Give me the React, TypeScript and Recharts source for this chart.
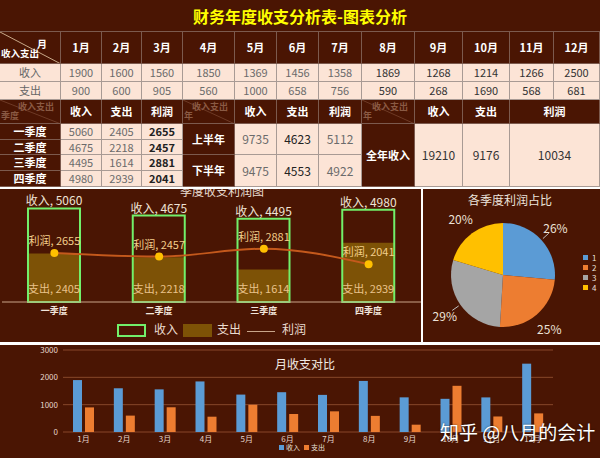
import React, { FC, ReactNode } from "react";
import {
  Bar,
  BarChart,
  CartesianGrid,
  Cell,
  ComposedChart,
  LabelList,
  Legend,
  Line,
  Pie,
  PieChart,
  XAxis,
  YAxis,
} from "recharts";

// ---- data ----
const months: string[] = ["1月", "2月", "3月", "4月", "5月", "6月", "7月", "8月", "9月", "10月", "11月", "12月"];
const monthIncome: number[] = [1900, 1600, 1560, 1850, 1369, 1456, 1358, 1869, 1268, 1214, 1266, 2500];
const monthExpense: number[] = [900, 600, 905, 560, 1000, 658, 756, 590, 268, 1690, 568, 681];

const quarters: string[] = ["一季度", "二季度", "三季度", "四季度"];
const quarterIncome: number[] = [5060, 4675, 4495, 4980];
const quarterExpense: number[] = [2405, 2218, 1614, 2939];
const quarterProfit: number[] = [2655, 2457, 2881, 2041];

const halves: string[] = ["上半年", "下半年"];
const halfIncome: number[] = [9735, 9475];
const halfExpense: number[] = [4623, 4553];
const halfProfit: number[] = [5112, 4922];

const yearIncome = 19210;
const yearExpense = 9176;
const yearProfit = 10034;

const pieNames: string[] = ["1", "2", "3", "4"];
const pieLabels: string[] = ["26%", "25%", "29%", "20%"];
const monthTicks: number[] = [0, 500, 1000, 1500, 2000, 2500, 3000];

// ---- styles ----
const FONT = "'Noto Sans CJK SC', 'Noto Sans', sans-serif";
const DARK = "#4a1503";
const PEACH = "#fce4d6";
const GREEN = "#72f06a";
const GOLD = "#7d5206";
const PIE_COLORS = ["#5b9bd5", "#ed7d31", "#a5a5a5", "#ffc000"];
const COLS = [0, 61, 102, 142, 183, 235, 277, 319, 362, 415, 463, 510, 554, 600];

type BoxProps = {
  c0: number;
  c1: number;
  y0: number;
  y1: number;
  bg?: string;
  color?: string;
  bold?: boolean;
  size?: number;
  children?: ReactNode;
};

const Box: FC<BoxProps> = ({ c0, c1, y0, y1, bg = DARK, color = "#fff", bold, size = 11, children }) => (
  <div
    style={{
      position: "absolute",
      left: COLS[c0],
      top: y0,
      width: COLS[c1] - COLS[c0],
      height: y1 - y0,
      background: bg,
      color,
      fontWeight: bold ? 700 : 400,
      fontSize: size,
      boxSizing: "border-box",
      borderRight: `1px solid ${bg === PEACH ? "#a89a94" : "#7c5a4e"}`,
      borderBottom: `1px solid ${bg === PEACH ? "#a89a94" : "#7c5a4e"}`,
      display: "flex",
      alignItems: "center",
      justifyContent: "center",
      lineHeight: 1,
      whiteSpace: "nowrap",
    }}
  >
    {children}
  </div>
);

const Diag: FC<{ c0: number; y0: number; y1: number; top: string; bottom: string; faint?: boolean }> = ({
  c0,
  y0,
  y1,
  top,
  bottom,
  faint,
}) => {
  const w = COLS[c0 + 1] - COLS[c0];
  const h = y1 - y0;
  const col = faint ? "#8a5a44" : "#fff";
  return (
    <div
      style={{
        position: "absolute",
        left: COLS[c0],
        top: y0,
        width: w,
        height: h,
        background: DARK,
        boxSizing: "border-box",
        borderRight: "1px solid #7c5a4e",
        borderBottom: "1px solid #7c5a4e",
        overflow: "hidden",
        lineHeight: 1,
        whiteSpace: "nowrap",
      }}
    >
      <svg width={w} height={h} style={{ position: "absolute", left: 0, top: 0 }}>
        <line x1={0} y1={0} x2={w} y2={h} stroke={faint ? "#6e3a26" : "#c8a888"} strokeWidth={1} />
      </svg>
      <div style={{ position: "absolute", right: faint ? 6 : 13, top: faint ? 2 : 7, fontSize: faint ? 9 : 10, fontWeight: 700, color: col }}>
        {top}
      </div>
      <div style={{ position: "absolute", left: 1, bottom: faint ? 3 : 5, fontSize: faint ? 9 : 9.5, fontWeight: 700, color: col }}>
        {bottom}
      </div>
    </div>
  );
};

const quarterData = quarters.map((q, i) => ({
  name: q,
  income: quarterIncome[i],
  expense: quarterExpense[i],
  profit: quarterProfit[i],
}));

const pieData = quarterProfit.map((v, i) => ({ name: pieNames[i], value: v }));

const monthData = months.map((m, i) => ({ name: m, income: monthIncome[i], expense: monthExpense[i] }));

const RAD = Math.PI / 180;
const renderPieLabel = (p: any) => {
  const { cx, cy, midAngle, outerRadius, index } = p;
  const a = -midAngle * RAD;
  const r = outerRadius + 19;
  const tx = cx + r * Math.cos(a);
  const ty = cy + r * Math.sin(a);
  const lead = index === 0 || index === 2;
  return (
    <g key={`pl-${index}`}>
      {lead && (
        <line
          x1={cx + (outerRadius + 2) * Math.cos(a)}
          y1={cy + (outerRadius + 2) * Math.sin(a)}
          x2={cx + (outerRadius + 10) * Math.cos(a)}
          y2={cy + (outerRadius + 10) * Math.sin(a)}
          stroke="#bfbfbf"
          strokeWidth={1}
        />
      )}
      <text x={tx} y={ty} fill="#ece2d8" fontSize={12} textAnchor="middle" dominantBaseline="central">
        {pieLabels[index]}
      </text>
    </g>
  );
};

// bar / line data labels, kept on one line
const incomeLabel = (p: any) => (
  <text x={p.x + p.width / 2} y={p.y - 3} fill="#efe3d6" fontSize={12} textAnchor="middle">
    {`收入, ${p.value}`}
  </text>
);
const expenseLabel = (p: any) => (
  <text x={p.x + p.width / 2} y={p.y + p.height - 9} fill="#e9c28a" fontSize={11} textAnchor="middle">
    {`支出, ${p.value}`}
  </text>
);
const profitLabel = (p: any) => (
  <text x={p.x} y={p.y - 8} fill="#f3cf8c" fontSize={11} textAnchor="middle">
    {`利润, ${p.value}`}
  </text>
);

const QuarterLegend = () => (
  <div style={{ position: "relative", width: 421, height: 14, color: "#eadcd0", fontSize: 12, lineHeight: "13px" }}>
    <div style={{ position: "absolute", left: 117, top: 0, width: 29, height: 13, border: `2px solid ${GREEN}`, boxSizing: "border-box" }} />
    <div style={{ position: "absolute", left: 154, top: -2 }}>收入</div>
    <div style={{ position: "absolute", left: 183, top: 0, width: 29, height: 13, background: GOLD }} />
    <div style={{ position: "absolute", left: 217, top: -2 }}>支出</div>
    <div style={{ position: "absolute", left: 247, top: 7, width: 28, height: 1, background: "#c8a58a" }} />
    <div style={{ position: "absolute", left: 282, top: -2 }}>利润</div>
  </div>
);

const PieLegend = () => (
  <div style={{ width: 17 }}>
    {pieNames.map((n, i) => (
      <div key={n} style={{ display: "flex", alignItems: "center", height: 10, fontSize: 8, color: "#e8e0da" }}>
        <span style={{ display: "inline-block", width: 5, height: 5, background: PIE_COLORS[i], marginRight: 4 }} />
        {n}
      </div>
    ))}
  </div>
);

const MonthLegend = () => (
  <div style={{ display: "flex", alignItems: "center", fontSize: 7, color: "#e8e0da", height: 10, whiteSpace: "nowrap" }}>
    <span style={{ display: "inline-block", width: 5, height: 5, background: PIE_COLORS[0], marginRight: 2 }} />
    收入
    <span style={{ display: "inline-block", width: 5, height: 5, background: PIE_COLORS[1], margin: "0 2px 0 4px" }} />
    支出
  </div>
);

const App: FC = () => {
  const rows2 = [124, 140, 155, 171, 187];
  return (
    <div
      style={{
        position: "fixed",
        left: 0,
        top: 0,
        width: 600,
        height: 458,
        background: "#fff",
        overflow: "hidden",
        fontFamily: FONT,
      }}
    >
      {/* title */}
      <div
        style={{
          position: "absolute",
          left: 0,
          top: 0,
          width: 600,
          height: 32,
          background: DARK,
          color: "#ffff00",
          fontWeight: 700,
          fontSize: 16,
          display: "flex",
          alignItems: "center",
          justifyContent: "center",
          borderBottom: "1px solid #7c5a4e",
          boxSizing: "border-box",
        }}
      >
        财务年度收支分析表-图表分析
      </div>

      {/* monthly table */}
      <Diag c0={0} y0={32} y1={64} top="月" bottom="收入支出" />
      {months.map((m, i) => (
        <Box key={m} c0={i + 1} c1={i + 2} y0={32} y1={64} bold>
          {m}
        </Box>
      ))}
      <Box c0={0} c1={1} y0={64} y1={82} bg={PEACH} color="#666">
        收入
      </Box>
      {monthIncome.map((v, i) => (
        <Box key={`mi${i}`} c0={i + 1} c1={i + 2} y0={64} y1={82} bg={PEACH} color={i >= 7 ? "#333" : "#6b6b6b"}>
          {v}
        </Box>
      ))}
      <Box c0={0} c1={1} y0={82} y1={100} bg={PEACH} color="#666">
        支出
      </Box>
      {monthExpense.map((v, i) => (
        <Box key={`me${i}`} c0={i + 1} c1={i + 2} y0={82} y1={100} bg={PEACH} color={i >= 7 ? "#333" : "#6b6b6b"}>
          {v}
        </Box>
      ))}

      {/* quarter / half / year table */}
      <Diag c0={0} y0={100} y1={124} top="收入支出" bottom="季度" faint />
      <Box c0={1} c1={2} y0={100} y1={124} bold>收入</Box>
      <Box c0={2} c1={3} y0={100} y1={124} bold>支出</Box>
      <Box c0={3} c1={4} y0={100} y1={124} bold>利润</Box>
      <Diag c0={4} y0={100} y1={124} top="收入支出" bottom="年" faint />
      <Box c0={5} c1={6} y0={100} y1={124} bold>收入</Box>
      <Box c0={6} c1={7} y0={100} y1={124} bold>支出</Box>
      <Box c0={7} c1={8} y0={100} y1={124} bold>利润</Box>
      <Diag c0={8} y0={100} y1={124} top="收入支出" bottom="年" faint />
      <Box c0={9} c1={10} y0={100} y1={124} bold>收入</Box>
      <Box c0={10} c1={11} y0={100} y1={124} bold>支出</Box>
      <Box c0={11} c1={13} y0={100} y1={124} bold>利润</Box>

      {quarters.map((q, i) => (
        <React.Fragment key={q}>
          <Box c0={0} c1={1} y0={rows2[i]} y1={rows2[i + 1]} bold>
            {q}
          </Box>
          <Box c0={1} c1={2} y0={rows2[i]} y1={rows2[i + 1]} bg={PEACH} color="#6b6b6b">
            {quarterIncome[i]}
          </Box>
          <Box c0={2} c1={3} y0={rows2[i]} y1={rows2[i + 1]} bg={PEACH} color="#6b6b6b">
            {quarterExpense[i]}
          </Box>
          <Box c0={3} c1={4} y0={rows2[i]} y1={rows2[i + 1]} bg={PEACH} color="#222" bold>
            {quarterProfit[i]}
          </Box>
        </React.Fragment>
      ))}

      {halves.map((h, i) => (
        <React.Fragment key={h}>
          <Box c0={4} c1={5} y0={rows2[i * 2]} y1={rows2[i * 2 + 2]} bold>
            {h}
          </Box>
          <Box c0={5} c1={6} y0={rows2[i * 2]} y1={rows2[i * 2 + 2]} bg={PEACH} color="#6b6b6b" size={12}>
            {halfIncome[i]}
          </Box>
          <Box c0={6} c1={7} y0={rows2[i * 2]} y1={rows2[i * 2 + 2]} bg={PEACH} color="#222" size={12}>
            {halfExpense[i]}
          </Box>
          <Box c0={7} c1={8} y0={rows2[i * 2]} y1={rows2[i * 2 + 2]} bg={PEACH} color="#6b6b6b" size={12}>
            {halfProfit[i]}
          </Box>
        </React.Fragment>
      ))}

      <Box c0={8} c1={9} y0={124} y1={187} bold>全年收入</Box>
      <Box c0={9} c1={10} y0={124} y1={187} bg={PEACH} color="#333" size={12}>{yearIncome}</Box>
      <Box c0={10} c1={11} y0={124} y1={187} bg={PEACH} color="#333" size={12}>{yearExpense}</Box>
      <Box c0={11} c1={13} y0={124} y1={187} bg={PEACH} color="#333" size={12}>{yearProfit}</Box>

      {/* quarterly combo chart */}
      <div style={{ position: "absolute", left: 0, top: 189, width: 421, height: 153, background: DARK, overflow: "hidden" }}>
        <div style={{ position: "absolute", left: 0, width: 444, top: -5, textAlign: "center", fontSize: 12, color: "#e8dcd0", lineHeight: "14px" }}>
          季度收支利润图
        </div>
        <ComposedChart width={421} height={153} data={quarterData} margin={{ top: 2, right: 0, left: 2, bottom: 0 }}>
          <XAxis
            xAxisId="a"
            dataKey="name"
            height={40}
            tickSize={0}
            tickMargin={6}
            axisLine={{ stroke: "#c9a58a" }}
            tickLine={false}
            tick={{ fill: "#f2e6dc", fontSize: 9, fontWeight: 700 }}
          />
          <XAxis xAxisId="b" dataKey="name" hide />
          <YAxis yAxisId="l" hide domain={[0, 6000]} />
          <YAxis yAxisId="r" hide orientation="right" domain={[0, 5500]} />
          <Bar xAxisId="b" yAxisId="r" dataKey="expense" barSize={52} fill={GOLD} isAnimationActive={false}>
            <LabelList dataKey="expense" content={expenseLabel} />
          </Bar>
          <Bar
            xAxisId="a"
            yAxisId="l"
            dataKey="income"
            barSize={52}
            fill="none"
            stroke={GREEN}
            strokeWidth={2}
            isAnimationActive={false}
          >
            <LabelList dataKey="income" content={incomeLabel} />
          </Bar>
          <Line
            xAxisId="a"
            yAxisId="l"
            type="monotone"
            dataKey="profit"
            stroke="#c4591c"
            strokeWidth={2}
            dot={{ r: 4, fill: "#ffc000", stroke: "#ffc000", strokeWidth: 0 }}
            isAnimationActive={false}
          >
            <LabelList dataKey="profit" content={profitLabel} />
          </Line>
          <Legend
            layout="horizontal"
            align="center"
            verticalAlign="middle"
            wrapperStyle={{ left: 0, top: 135, width: 421, height: 14 }}
            content={() => <QuarterLegend />}
          />
        </ComposedChart>
      </div>

      {/* pie */}
      <div style={{ position: "absolute", left: 423, top: 189, width: 177, height: 153, background: DARK, overflow: "hidden" }}>
        <div style={{ position: "absolute", left: 0, width: 174, top: 4, textAlign: "center", fontSize: 12, color: "#ece4dc", lineHeight: "14px" }}>
          各季度利润占比
        </div>
        <PieChart width={177} height={153} margin={{ top: 0, right: 0, bottom: 0, left: 0 }}>
          <Pie
            data={pieData}
            dataKey="value"
            nameKey="name"
            cx={80}
            cy={86}
            outerRadius={52}
            startAngle={90}
            endAngle={-270}
            stroke="none"
            label={renderPieLabel}
            labelLine={false}
            isAnimationActive={false}
          >
            {pieData.map((d, i) => (
              <Cell key={d.name} fill={PIE_COLORS[i]} />
            ))}
          </Pie>
          <Legend
            layout="vertical"
            align="center"
            verticalAlign="middle"
            wrapperStyle={{ left: 160, top: 63, width: 17, height: 40 }}
            content={() => <PieLegend />}
          />
        </PieChart>
      </div>

      {/* monthly bar chart */}
      <div style={{ position: "absolute", left: 0, top: 345, width: 600, height: 113, background: DARK, overflow: "hidden" }}>
        <BarChart
          width={600}
          height={113}
          data={monthData}
          margin={{ top: 5, right: 47, left: 0, bottom: 0 }}
          barSize={9}
          barGap={3}
        >
          <CartesianGrid vertical={false} stroke="#87472a" />
          <XAxis
            dataKey="name"
            height={26}
            tickSize={0}
            tickMargin={4}
            axisLine={false}
            tickLine={false}
            interval={0}
            tick={{ fill: "#e6d6cc", fontSize: 8 }}
          />
          <YAxis
            width={63}
            domain={[0, 3000]}
            ticks={monthTicks}
            tickSize={0}
            tickMargin={5}
            axisLine={false}
            tickLine={false}
            tick={{ fill: "#e6d6cc", fontSize: 8 }}
          />
          <Bar dataKey="income" fill={PIE_COLORS[0]} isAnimationActive={false} />
          <Bar dataKey="expense" fill={PIE_COLORS[1]} isAnimationActive={false} />
          <Legend
            layout="horizontal"
            align="center"
            verticalAlign="middle"
            wrapperStyle={{ left: 279, top: 97, width: 50, height: 10 }}
            content={() => <MonthLegend />}
          />
        </BarChart>
        <div style={{ position: "absolute", left: 255, width: 100, top: 12, textAlign: "center", fontSize: 12, color: "#f2ebe4", lineHeight: "14px" }}>
          月收支对比
        </div>
        <div
          style={{
            position: "absolute",
            left: 440,
            top: 76,
            fontSize: 19,
            color: "#fff",
            whiteSpace: "nowrap",
            textShadow: "0 0 2px rgba(0,0,0,0.6)",
            lineHeight: "22px",
          }}
        >
          知乎 @八月的会计
        </div>
      </div>
    </div>
  );
};

export default App;
